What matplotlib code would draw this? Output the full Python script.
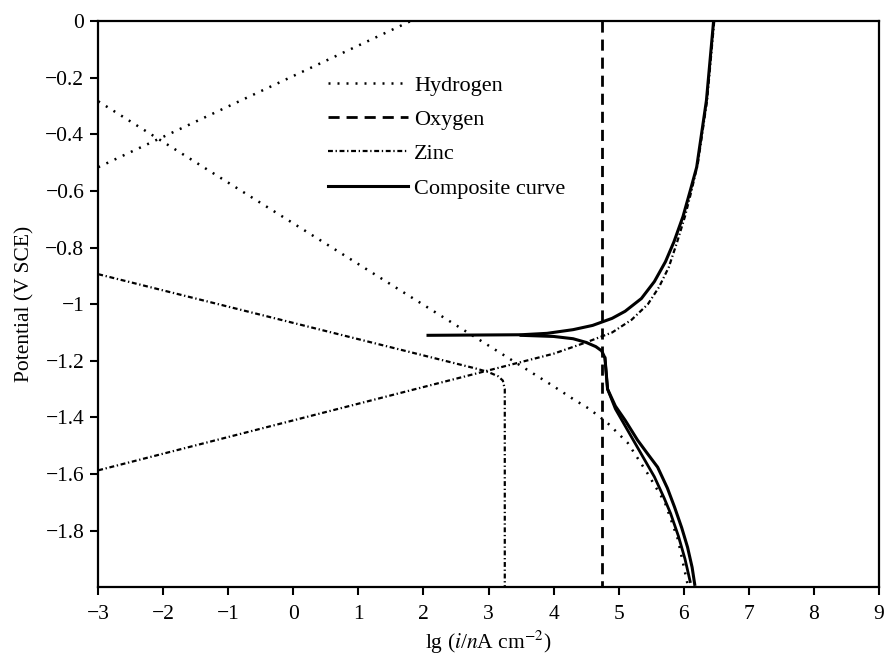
import matplotlib.pyplot as plt
from matplotlib.ticker import FuncFormatter

plt.rcParams['font.family'] = ['Liberation Serif', 'DejaVu Serif']
plt.rcParams['mathtext.fontset'] = 'stix'

# values: lg(i / nA cm-2) and potential (V SCE)
h_an_lg = [-3.0, 1.8]
h_an_e = [-0.516, 0.0]

h_cat_lg = [-3.0, 4.0, 4.3, 4.55, 4.83, 5.14, 5.45, 5.71, 5.91, 6.07]
h_cat_e = [-0.283, -1.29, -1.335, -1.37, -1.42, -1.49, -1.60, -1.70, -1.83, -2.0]

o2_lg = [4.74, 4.74]
o2_e = [0.0, -2.0]

zn_cat_lg = [-3.0, 2.8, 3.0, 3.15, 3.22, 3.25, 3.25]
zn_cat_e = [-0.894, -1.227, -1.24, -1.255, -1.27, -1.30, -2.0]

zn_an_lg = [-3.0, 4.0, 4.5, 4.9, 5.2, 5.45, 5.62, 5.77, 5.9, 6.02, 6.12, 6.22, 6.36, 6.47]
zn_an_e = [-1.587, -1.175, -1.135, -1.10, -1.055, -1.0, -0.94, -0.87, -0.78, -0.69, -0.6, -0.5, -0.28, 0.0]

comp_up_lg = [2.07, 3.5, 3.9, 4.3, 4.6, 4.9, 5.1, 5.35, 5.55, 5.72, 5.85, 5.99, 6.1, 6.2, 6.35, 6.46]
comp_up_e = [-1.11, -1.108, -1.103, -1.09, -1.075, -1.05, -1.025, -0.98, -0.92, -0.85, -0.78, -0.69, -0.6, -0.516, -0.28, 0.0]

comp_lo1_lg = [3.5, 4.0, 4.3, 4.5, 4.65, 4.74, 4.79, 4.83, 4.95, 5.1, 5.29, 5.45, 5.6, 5.75, 5.86, 5.97, 6.06, 6.13, 6.17]
comp_lo1_e = [-1.11, -1.114, -1.122, -1.135, -1.15, -1.165, -1.19, -1.30, -1.36, -1.41, -1.48, -1.53, -1.576, -1.65, -1.717, -1.79, -1.859, -1.93, -1.99]

comp_lo2_lg = [4.79, 4.83, 4.95, 5.1, 5.25, 5.4, 5.55, 5.7, 5.8, 5.92, 6.02, 6.1]
comp_lo2_e = [-1.19, -1.30, -1.37, -1.43, -1.49, -1.55, -1.61, -1.685, -1.74, -1.82, -1.90, -1.98]

x_ticks = list(range(-3, 10))
y_ticks = [0, -0.2, -0.4, -0.6, -0.8, -1, -1.2, -1.4, -1.6, -1.8]

fig = plt.figure(figsize=(8.85, 6.62), dpi=100)
ax = fig.add_axes([0.111, 0.113, 0.882, 0.855])

dot = (0, (0.8, 2.8))
dashdot = (0, (2.2, 1.2, 0.6, 1.2))

ax.plot(h_an_lg, h_an_e, color='black', lw=1.8, linestyle=dot, label='Hydrogen')
ax.plot(h_cat_lg, h_cat_e, color='black', lw=1.8, linestyle=dot)
ax.plot(o2_lg, o2_e, color='black', lw=2.0, linestyle=(0, (4, 2.5)), label='Oxygen')
ax.plot(zn_cat_lg, zn_cat_e, color='black', lw=1.6, linestyle=dashdot, label='Zinc')
ax.plot(zn_an_lg, zn_an_e, color='black', lw=1.6, linestyle=dashdot)
ax.plot(comp_up_lg, comp_up_e, color='black', lw=2.2, label='Composite curve')
ax.plot(comp_lo1_lg, comp_lo1_e, color='black', lw=2.2)
ax.plot(comp_lo2_lg, comp_lo2_e, color='black', lw=2.0)

ax.set_xlim(-3, 9)
ax.set_ylim(-2, 0)
ax.set_xticks(x_ticks)
ax.set_yticks(y_ticks)


def fmt(v, pos):
    s = ('%g' % v)
    return s.replace('-', '\u2212')


ax.xaxis.set_major_formatter(FuncFormatter(fmt))
ax.yaxis.set_major_formatter(FuncFormatter(fmt))
ax.tick_params(direction='out', length=6, width=1.5, labelsize=15.5)
ax.tick_params(axis='x', pad=7)
ax.tick_params(axis='y', pad=4)
for sp in ax.spines.values():
    sp.set_linewidth(1.6)

ax.set_xlabel(r'lg ($i$/$n$A cm$^{-2}$)', fontsize=15.5, labelpad=3)
ax.set_ylabel('Potential (V SCE)', fontsize=15.5, labelpad=8)

ax.legend(loc='upper left', bbox_to_anchor=(0.294, 0.905), frameon=False,
          fontsize=16, handlelength=3.6, handletextpad=0.3, labelspacing=0.62,
          borderpad=0, borderaxespad=0)

fig.savefig('out.png', dpi=100)
